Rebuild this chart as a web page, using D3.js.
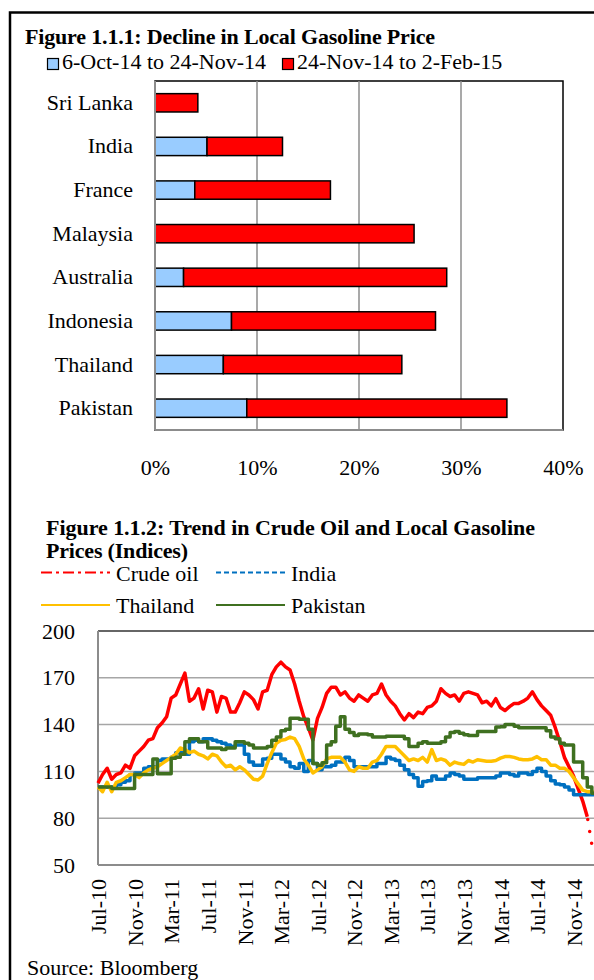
<!DOCTYPE html>
<html>
<head>
<meta charset="utf-8">
<script src="https://cdn.jsdelivr.net/npm/d3@7"></script>
<style>
  body { margin: 0; background: #fff; }
  svg { display: block; font-family: "Liberation Serif", "Times New Roman", serif; }
</style>
</head>
<body>
<div id="chart"></div>
<script>
////////// data: figure 1.1.1 //////////////////////////////////
const countries = ["Sri Lanka", "India", "France", "Malaysia", "Australia", "Indonesia", "Thailand", "Pakistan"];
const octToNov = [0, 5.1, 3.9, 0, 2.8, 7.5, 6.7, 9.0];      // 6-Oct-14 to 24-Nov-14
const novToFeb = [4.2, 7.4, 13.3, 25.4, 25.8, 20.0, 17.5, 25.5]; // 24-Nov-14 to 2-Feb-15
const barTicks = [0, 10, 20, 30, 40];

////////// data: figure 1.1.2 (one value every half month from Jul-10) //////////
const monthLabels = ["Jul-10", "Nov-10", "Mar-11", "Jul-11", "Nov-11", "Mar-12", "Jul-12",
                     "Nov-12", "Mar-13", "Jul-13", "Nov-13", "Mar-14", "Jul-14", "Nov-14"];
const lineTicks = [50, 80, 110, 140, 170, 200];

const crude = [102.5,108,112,105,108,109,114,112,120,123,126,130,131,138,141,145,157,159,166,173,
  155,157,163,150,162,161,148,158,157,148,148,154,161,159,156,150,161,162,172,177,
  180,177,175,166,155,145,138,130,144,151,160,164,164,159,161,157,155,159,157,155,
  159,160,166,159,155,152,147,143,147,144.5,148,147,151,152,155,163,160,158,159,155,
  160,161,160,159,154,155,152,156.6,151,149,151.5,153.6,153.6,155,157,161,156,152,149,146,
  138,129,119,113,107,99,91,81,63];
const india = [100,100,100,100,101.5,103,104,108,109,109,112,113,113,117,118,118,119,122,122,121,
  129,130,129,131,131,130,129,128,127,126,127,127,121,116,114,114,118,118.5,121,121,
  118,116,113,112,115,110,117,115,111,113,113,114,116,116,119,117,113,113,113,113,
  113,115,115,119,118,117,114,111,108,106,100.5,103.5,104,107,105,105,107,109,108,107,
  105,105,105,106,106,106,106,107,109,109,108,107,109,109,108,110,112,110,107,104,
  102,101.5,100,98,95,95,95,95,95,95];
const thailand = [100,97,103,97,103,104,106,108,108,106,109,111,112,113,115,117,119,121,125,124,
  122,123,121,120,118,121,120,116,113,114,111,113,111,108,105,104.5,107,115,122,128,
  130,130.5,132,131,126,118,114,109,111,113,118,119,119,119,116,111,110,113,112,112,
  116,117,121,126,126,126,123,120,117,118,117,119,116,124,117,118,117,114,116,115,
  114.5,117,116,117.5,117,116.5,116.5,117,118.5,119.5,119.5,119,118,117.5,117.5,118,119.5,117.5,117.5,114,
  114,112,112,110,106,102,98,97,97,96];
const pakistan = [100,100,100,99,99,99,99,99,108,108,108,108,118,108.5,108.5,108.5,118.5,119,121,129,
  131,131,129,129,125,125,125,124,125,125,129,129,128,127,125,125,125,126,130,132,
  136,137,144,144,143.5,143.5,137,115,114,115.5,127,129,139,145,137,135,133,134,134,133.5,
  132,132,132,132.5,132.5,132.5,132.5,131,126,126,128,129,128,128,128,129,132,135,135.5,134.5,
  133.5,133,133,135.5,135.5,135.5,135.5,138.5,138.7,140,140,139,138,138,138,138,138,138,136,132,
  131,128,127,127,116,116,106,100,96,92];

const width = 594, height = 980;
const svg = d3.select("#chart").append("svg")
  .attr("width", width)
  .attr("height", height);

// outer frame (only left and top edges are inside the picture)
svg.append("path")
  .attr("d", "M10,980V12.5H594")
  .attr("fill", "none")
  .attr("stroke", "#000")
  .attr("stroke-width", 2.5);

////////// figure 1.1.1 ////////////////////////////////////////
svg.append("text")
  .attr("x", 25).attr("y", 44)
  .attr("font-size", 22).attr("font-weight", "bold")
  .attr("textLength", 410)
  .text("Figure 1.1.1: Decline in Local Gasoline Price");

const legend1 = [
  {label: "6-Oct-14 to 24-Nov-14", color: "#99CCFF", x: 47},
  {label: "24-Nov-14 to 2-Feb-15", color: "#FF0000", x: 282}
];
const lg1 = svg.append("g").selectAll("g").data(legend1).join("g")
  .attr("transform", d => `translate(${d.x},0)`);
lg1.append("rect")
  .attr("x", 0.5).attr("y", 58.5).attr("width", 11).attr("height", 11)
  .attr("fill", d => d.color).attr("stroke", "#000").attr("stroke-width", 1.2);
lg1.append("text")
  .attr("x", 15).attr("y", 69)
  .attr("font-size", 22)
  .text(d => d.label);

const bx = d3.scaleLinear().domain([0, 40]).range([155, 563]);
const by = d3.scaleBand().domain(countries).range([81, 430]).paddingInner(0.58).paddingOuter(0.29);

const barRows = countries.map((c, i) => ({country: c, a: octToNov[i], b: novToFeb[i]}));
const stacked = d3.stack().keys(["a", "b"])(barRows);
const barColors = {a: "#99CCFF", b: "#FF0000"};

// plot frame and gridlines
svg.append("rect")
  .attr("x", bx(0)).attr("y", 81).attr("width", bx(40) - bx(0)).attr("height", 430 - 81)
  .attr("fill", "none").attr("stroke", "#000").attr("stroke-width", 1.5);
svg.append("g").selectAll("line").data([10, 20, 30]).join("line")
  .attr("x1", d => bx(d)).attr("x2", d => bx(d))
  .attr("y1", 81).attr("y2", 430)
  .attr("stroke", "#8c8c8c").attr("stroke-width", 1.5);

svg.append("g").selectAll("g").data(stacked).join("g")
  .attr("fill", d => barColors[d.key])
  .selectAll("rect").data(d => d.filter(s => s[1] > s[0])).join("rect")
  .attr("x", d => bx(d[0]))
  .attr("y", d => by(d.data.country))
  .attr("width", d => bx(d[1]) - bx(d[0]))
  .attr("height", by.bandwidth())
  .attr("stroke", "#000").attr("stroke-width", 1.5);

// axes
svg.append("line").attr("x1", bx(0)).attr("x2", bx(0)).attr("y1", 81).attr("y2", 430)
  .attr("stroke", "#8c8c8c").attr("stroke-width", 2);
svg.append("line").attr("x1", bx(0)).attr("x2", bx(40)).attr("y1", 430).attr("y2", 430)
  .attr("stroke", "#8c8c8c").attr("stroke-width", 2);

const bxAxis = svg.append("g").attr("transform", "translate(0,430)")
  .call(d3.axisBottom(bx).tickValues(barTicks).tickFormat(d => d + "%").tickSize(0).tickPadding(29));
const byAxis = svg.append("g").attr("transform", `translate(${bx(0)},0)`)
  .call(d3.axisLeft(by).tickSize(0).tickPadding(22));
[bxAxis, byAxis].forEach(a => {
  a.attr("font-family", null).attr("font-size", 22);
  a.select(".domain").remove();
  a.selectAll("text").attr("fill", "#000");
});

////////// figure 1.1.2 ////////////////////////////////////////
svg.append("text")
  .attr("x", 46).attr("y", 535)
  .attr("font-size", 22).attr("font-weight", "bold")
  .attr("textLength", 489)
  .text("Figure 1.1.2: Trend in Crude Oil  and Local Gasoline");
svg.append("text")
  .attr("x", 46).attr("y", 558)
  .attr("font-size", 22).attr("font-weight", "bold")
  .attr("textLength", 142)
  .text("Prices (Indices)");

const seriesNames = ["Crude oil", "India", "Thailand", "Pakistan"];
const seriesData = [crude, india, thailand, pakistan];
const seriesColors = ["#FF0000", "#0070C0", "#FFC000", "#3F7020"];
const legendDash = ["11,4,3,4", "5,3", null, null];

const lg2 = svg.append("g").selectAll("g").data(seriesNames).join("g")
  .attr("transform", (d, i) => `translate(${i % 2 ? 216 : 41},${i < 2 ? 572.5 : 605})`);
lg2.append("line")
  .attr("x1", 0).attr("x2", 69)
  .attr("stroke", (d, i) => seriesColors[i])
  .attr("stroke-width", 2)
  .attr("stroke-dasharray", (d, i) => legendDash[i]);
lg2.append("text")
  .attr("x", 75).attr("y", 8)
  .attr("font-size", 22)
  .text(d => d);

const lx = d3.scaleLinear().domain([0, 55]).range([98, 601]);
const ly = d3.scaleLinear().domain([50, 200]).range([865, 631]);

svg.append("g").selectAll("line").data([80, 110, 140, 170]).join("line")
  .attr("x1", lx(0)).attr("x2", width)
  .attr("y1", d => ly(d)).attr("y2", d => ly(d))
  .attr("stroke", "#a6a6a6").attr("stroke-width", 1.5);
svg.append("line").attr("x1", lx(0)).attr("x2", width).attr("y1", ly(200)).attr("y2", ly(200))
  .attr("stroke", "#333").attr("stroke-width", 1.5);
svg.append("line").attr("x1", lx(0)).attr("x2", lx(0)).attr("y1", ly(200)).attr("y2", ly(50))
  .attr("stroke", "#8c8c8c").attr("stroke-width", 2);
svg.append("line").attr("x1", lx(0)).attr("x2", width).attr("y1", ly(50)).attr("y2", ly(50))
  .attr("stroke", "#8c8c8c").attr("stroke-width", 2);

const curves = [d3.curveLinear, d3.curveStepAfter, d3.curveLinear, d3.curveStepAfter];
const lines = svg.append("g").attr("fill", "none").attr("stroke-width", 3.5)
  .attr("stroke-linejoin", "round");
seriesData.forEach((vals, k) => {
  // the last crude oil step is drawn dotted, as in the source chart
  const solid = k === 0 ? vals.slice(0, vals.length - 1) : vals;
  const line = d3.line().x((d, i) => lx(i / 2)).y(d => ly(d)).curve(curves[k]);
  lines.append("path")
    .attr("d", line(solid))
    .attr("stroke", seriesColors[k]);
});
const n = crude.length;
lines.append("path")
  .attr("d", d3.line()([[lx((n - 2) / 2), ly(crude[n - 2])], [lx((n - 1) / 2), ly(crude[n - 1])]]))
  .attr("stroke", seriesColors[0])
  .attr("stroke-linecap", "round")
  .attr("stroke-dasharray", "0,12")
  .attr("stroke-dashoffset", -3);

const lyAxis = svg.append("g").attr("transform", `translate(${lx(0)},0)`)
  .call(d3.axisLeft(ly).tickValues(lineTicks).tickSize(0).tickPadding(23));
const lxAxis = svg.append("g").attr("transform", `translate(0,${ly(50)})`)
  .call(d3.axisBottom(lx).tickValues(d3.range(0, 53, 4)).tickFormat((d, i) => monthLabels[i]).tickSize(0));
[lyAxis, lxAxis].forEach(a => {
  a.attr("font-family", null).attr("font-size", 22);
  a.select(".domain").remove();
  a.selectAll("text").attr("fill", "#000");
});
lxAxis.selectAll("text")
  .attr("transform", "rotate(-90)")
  .attr("text-anchor", "end")
  .attr("x", -14).attr("y", 0).attr("dy", "0.35em");

svg.append("text")
  .attr("x", 27).attr("y", 975)
  .attr("font-size", 22)
  .text("Source: Bloomberg");
</script>
</body>
</html>
